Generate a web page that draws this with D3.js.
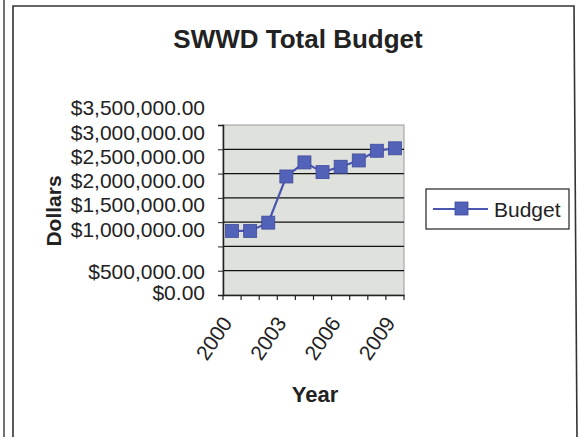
<!DOCTYPE html>
<html><head><meta charset="utf-8">
<script src="https://cdn.jsdelivr.net/npm/d3@7"></script>
<style>body{margin:0;background:#fff;}svg{display:block;font-family:"Liberation Sans",Arial,sans-serif;}</style>
</head><body>
<svg id="c" width="579" height="437"></svg>
<script>
const years = [2000,2001,2002,2003,2004,2005,2006,2007,2008,2009];
const budget = [1320000,1320000,1490000,2440000,2730000,2530000,2640000,2770000,2970000,3020000];
const yTicks = [0,500000,1000000,1500000,2000000,2500000,3000000,3500000];
const xLabelYears = [2000,2003,2006,2009];

const svg = d3.select("#c");
// outer frames
svg.append("line").attr("x1",4).attr("x2",4).attr("y1",0).attr("y2",437).attr("stroke","#444").attr("stroke-width",1.5);
svg.append("path").attr("d","M13,437 L13,6 L574,6 L577,437").attr("fill","none").attr("stroke","#333").attr("stroke-width",1.6);

const L=223,R=404,T=125,B=295;
const x = d3.scaleBand().domain(years).range([L,R]);
const y = d3.scaleLinear().domain([0,3500000]).range([B,T]);

svg.append("rect").attr("x",L).attr("y",T).attr("width",R-L).attr("height",B-T).attr("fill","#dfe2dc").attr("stroke","#999").attr("stroke-width",1);

// gridlines
svg.append("g").selectAll("line").data(yTicks.filter(d=>d>0 && d<3500000)).join("line")
  .attr("x1",L).attr("x2",R).attr("y1",d=>y(d)).attr("y2",d=>y(d)).attr("stroke","#111").attr("stroke-width",1.2);

// y axis
const fmt = d => "$" + d3.format(",.2f")(d);
const ya = svg.append("g").attr("transform",`translate(${L},0)`)
  .call(d3.axisLeft(y).tickValues(yTicks).tickFormat(fmt).tickSize(5).tickPadding(13));
ya.select(".domain").attr("stroke","#222").attr("stroke-width",1.5);
ya.selectAll(".tick line").attr("stroke","#222");
ya.selectAll(".tick text").attr("font-size",21).attr("fill","#222")
  .attr("font-family","Liberation Sans, Arial, sans-serif")
  .attr("transform",d=> d>=1000000 ? "translate(0,-17)" : (d===0?"translate(0,-2)":"translate(0,1)"));

// x axis
const xa = svg.append("g").attr("transform",`translate(0,${B})`)
  .call(d3.axisBottom(x).tickValues([]).tickSizeOuter(0));
xa.select(".domain").attr("stroke","#222").attr("stroke-width",1.5);
const edges = years.map(d=>x(d)).concat([R]);
xa.selectAll("line.edge").data(edges).join("line").attr("class","edge")
  .attr("x1",d=>d).attr("x2",d=>d).attr("y1",0).attr("y2",5).attr("stroke","#222").attr("stroke-width",1.2);
xa.selectAll("text.yl").data(xLabelYears).join("text").attr("class","yl")
  .attr("transform",d=>`translate(${x(d)+x.bandwidth()/2+1},${28}) rotate(-56)`)
  .attr("text-anchor","end").attr("font-size",21).attr("fill","#222").text(d=>d);

// line + markers
const cx = d=>x(d)+x.bandwidth()/2;
svg.append("path").datum(years.map((d,i)=>[cx(d),y(budget[i])]))
  .attr("d",d3.line()).attr("fill","none").attr("stroke","#4a55b0").attr("stroke-width",2.2);
svg.append("g").selectAll("rect").data(years).join("rect")
  .attr("x",d=>cx(d)-6.5).attr("y",(d,i)=>y(budget[i])-6.5).attr("width",13).attr("height",13)
  .attr("fill","#5362b9").attr("stroke","#3f4a9a").attr("stroke-width",0.8);

// titles
svg.append("text").attr("x",298).attr("y",48).attr("text-anchor","middle").attr("font-size",26).attr("font-weight","bold").attr("fill","#222").text("SWWD Total Budget");
svg.append("text").attr("transform","translate(61,211) rotate(-90)").attr("text-anchor","middle").attr("font-size",21).attr("font-weight","bold").attr("fill","#222").text("Dollars");
svg.append("text").attr("x",315).attr("y",402).attr("text-anchor","middle").attr("font-size",22).attr("font-weight","bold").attr("fill","#222").text("Year");

// legend
const lg = svg.append("g");
lg.append("rect").attr("x",426).attr("y",189).attr("width",143).attr("height",40).attr("fill","#fff").attr("stroke","#222").attr("stroke-width",1.2);
lg.append("line").attr("x1",433).attr("x2",488).attr("y1",209).attr("y2",209).attr("stroke","#4a55b0").attr("stroke-width",2.2);
lg.append("rect").attr("x",455).attr("y",202).attr("width",13).attr("height",13).attr("fill","#5362b9").attr("stroke","#3f4a9a").attr("stroke-width",0.8);
lg.append("text").attr("x",494).attr("y",217).attr("font-size",21).attr("fill","#222").text("Budget");
</script>
</body></html>
